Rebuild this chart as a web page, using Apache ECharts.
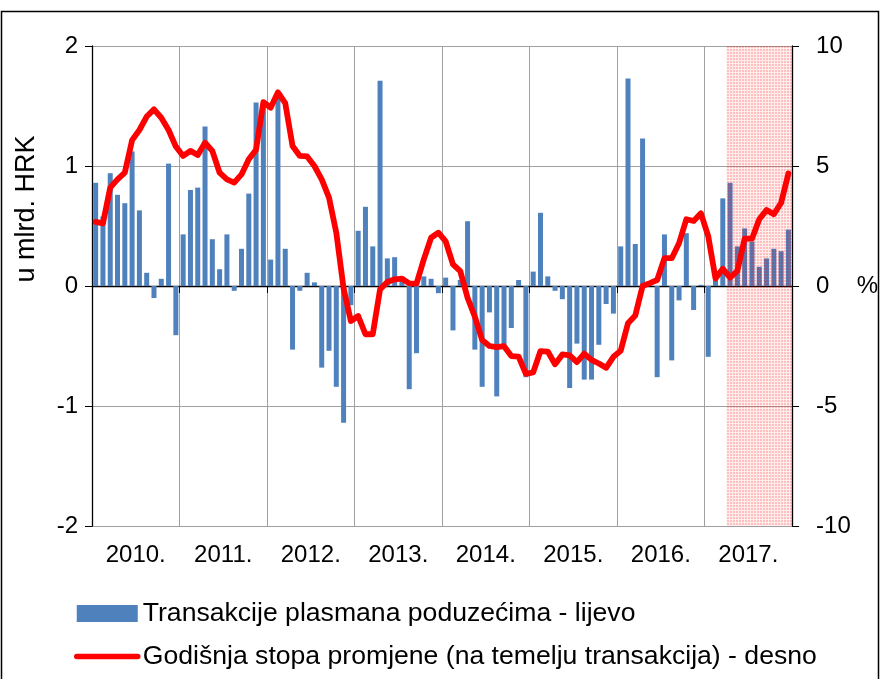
<!DOCTYPE html>
<html><head><meta charset="utf-8">
<script src="https://cdn.jsdelivr.net/npm/echarts@6/dist/echarts.min.js"></script>
<style>html,body{margin:0;padding:0;background:#fff}#c{width:881px;height:679px}</style>
</head><body><div id="c"></div>
<script>
const years = ['2010','2011','2012','2013','2014','2015','2016','2017'];
const yearLabels = ['2010.','2011.','2012.','2013.','2014.','2015.','2016.','2017.'];
const months = [];
years.forEach(y => { for (let m = 1; m <= 12; m++) months.push(y + '-' + String(m).padStart(2, '0')); });

const barName = 'Transakcije plasmana poduzećima - lijevo';
const lineName = 'Godišnja stopa promjene (na temelju transakcija) - desno';

// u mlrd. HRK (left axis)
const transakcije = [
  0.86, 0.58, 0.94, 0.76, 0.69, 1.12, 0.63, 0.11, -0.10, 0.06, 1.02, -0.41,
  0.43, 0.80, 0.82, 1.33, 0.39, 0.14, 0.43, -0.04, 0.31, 0.77, 1.53, 1.52,
  0.22, 1.56, 0.31, -0.53, -0.04, 0.11, 0.03, -0.68, -0.54, -0.84, -1.14, -0.16,
  0.46, 0.66, 0.33, 1.71, 0.23, 0.24, 0.08, -0.86, -0.56, 0.08, 0.06, -0.06,
  0.07, -0.37, 0.05, 0.54, -0.53, -0.84, -0.22, -0.92, -0.49, -0.35, 0.05, -0.76,
  0.12, 0.61, 0.08, -0.04, -0.11, -0.85, -0.48, -0.78, -0.78, -0.49, -0.15, -0.23,
  0.33, 1.73, 0.35, 1.23, 0.02, -0.76, 0.43, -0.62, -0.12, 0.44, -0.20, 0.01,
  -0.59, 0.05, 0.73, 0.86, 0.33, 0.48, 0.37, 0.16, 0.23, 0.31, 0.29, 0.47
];
// % (right axis)
const stopa = [
  2.67, 2.61, 4.10, 4.44, 4.72, 6.08, 6.50, 7.06, 7.36, 7.01, 6.50, 5.81,
  5.42, 5.63, 5.46, 5.97, 5.63, 4.72, 4.44, 4.31, 4.65, 5.28, 5.68, 7.66,
  7.43, 8.07, 7.62, 5.83, 5.42, 5.40, 5.00, 4.44, 3.68, 2.22, -0.10, -1.46,
  -1.25, -2.01, -2.01, -0.14, 0.17, 0.28, 0.31, 0.11, 0.10, 1.11, 2.01, 2.22,
  1.86, 0.90, 0.62, -0.49, -1.28, -2.25, -2.50, -2.55, -2.51, -2.92, -2.94, -3.66,
  -3.60, -2.71, -2.73, -3.26, -2.85, -2.89, -3.17, -2.82, -3.08, -3.23, -3.41, -2.95,
  -2.70, -1.55, -1.23, 0.00, 0.12, 0.25, 1.16, 1.16, 1.78, 2.78, 2.71, 3.03,
  2.08, 0.31, 0.72, 0.35, 0.63, 1.97, 1.97, 2.78, 3.17, 2.99, 3.47, 4.69
];
const shadeStart = '2017-04';
const shadeEnd = '2017-12';
const leftMin = -2, leftMax = 2, leftStep = 1;
const rightMin = -10, rightMax = 10, rightStep = 5;

const FONT = '"Liberation Sans", Arial, sans-serif';

const pat = document.createElement('canvas');
pat.width = 3; pat.height = 3;
(function () {
  const g = pat.getContext('2d');
  g.fillStyle = 'rgba(255,0,0,0.25)'; g.fillRect(0, 0, 3, 3);
  g.clearRect(0, 0, 3, 1); g.clearRect(0, 0, 1, 3);
  g.fillStyle = 'rgba(255,0,0,0.07)'; g.fillRect(0, 0, 3, 1); g.fillRect(0, 1, 1, 2);
})();

const chart = echarts.init(document.getElementById('c'), null, { renderer: 'canvas' });
chart.setOption({
  animation: false,
  backgroundColor: '#fff',
  textStyle: { fontFamily: FONT },
  grid: { left: 92, right: 85, top: 46, bottom: 153, containLabel: false },
  legend: {
    orient: 'vertical', left: 69, top: 595,
    itemWidth: 61, itemHeight: 17, itemGap: 16,
    textStyle: { fontSize: 26.6, color: '#000', fontFamily: FONT },
    data: [
      { name: barName, icon: 'rect' },
      { name: lineName, itemStyle: { opacity: 0 }, lineStyle: { width: 5.5, color: '#FF0000', cap: 'round' } }
    ]
  },
  xAxis: [
    {
      type: 'category', data: months, boundaryGap: true,
      axisLine: { show: true, onZero: true, onZeroAxisIndex: 0, lineStyle: { color: '#000', width: 1.3 } },
      axisTick: { show: true, inside: false, length: 7, interval: (i) => i % 12 === 0, lineStyle: { color: '#000' } },
      axisLabel: { show: false },
      splitLine: { show: false }
    },
    {
      type: 'category', data: yearLabels, boundaryGap: true, position: 'bottom',
      axisLine: { show: false, onZero: false },
      axisTick: { show: false },
      axisLabel: { show: true, interval: 0, fontSize: 24, color: '#000', margin: 17, fontFamily: FONT },
      splitLine: { show: true, interval: 0, lineStyle: { color: '#A0A0A0', width: 1 } }
    }
  ],
  yAxis: [
    {
      type: 'value', min: leftMin, max: leftMax, interval: leftStep, position: 'left',
      axisLine: { show: true, lineStyle: { color: '#000', width: 1.3 } },
      axisTick: { show: true, inside: false, length: 7, lineStyle: { color: '#000' } },
      axisLabel: { fontSize: 24, color: '#000', margin: 14, fontFamily: FONT },
      splitLine: { show: true, lineStyle: { color: '#A0A0A0', width: 1 } }
    },
    {
      type: 'value', min: rightMin, max: rightMax, interval: rightStep, position: 'right',
      axisLine: { show: true, lineStyle: { color: '#000', width: 1.3 } },
      axisTick: { show: true, inside: false, length: 7, lineStyle: { color: '#000' } },
      axisLabel: { fontSize: 24, color: '#000', margin: 24, fontFamily: FONT },
      splitLine: { show: false },
      name: '%', nameLocation: 'middle', nameRotate: 0, nameGap: 60,
      nameTextStyle: { fontSize: 24, color: '#000', fontFamily: FONT }
    }
  ],
  series: [
    {
      name: barName, type: 'bar', data: transakcije, xAxisIndex: 0, yAxisIndex: 0,
      barWidth: 5, itemStyle: { color: '#4F81BD' }, z: 2
    },
    {
      name: 'shade', type: 'custom', xAxisIndex: 0, yAxisIndex: 0, z: 3, silent: true,
      data: [[months.indexOf(shadeStart), months.indexOf(shadeEnd)]],
      encode: { x: [0, 1] },
      renderItem: function (params, api) {
        const s = api.value(0), e = api.value(1);
        const bw = api.size([1, 0])[0];
        const p0 = api.coord([s, leftMax]);
        const p1 = api.coord([e, leftMin]);
        return {
          type: 'rect',
          shape: { x: p0[0] - bw / 2, y: p0[1], width: p1[0] - p0[0] + bw, height: p1[1] - p0[1] },
          style: { fill: { image: pat, repeat: 'repeat' } }
        };
      }
    },
    {
      name: lineName, type: 'line', data: stopa, xAxisIndex: 0, yAxisIndex: 1,
      symbol: 'none', z: 4,
      lineStyle: { color: '#FF0000', width: 5.8, cap: 'round', join: 'round' },
      itemStyle: { color: '#FF0000' }
    }
  ],
  graphic: [
    {
      type: 'text', x: 27, y: 209, rotation: Math.PI / 2,
      style: { text: 'u mlrd. HRK', fontSize: 27, fontFamily: FONT, fill: '#000', align: 'center', verticalAlign: 'middle' }
    },
    {
      type: 'rect', silent: true,
      shape: { x: 1.5, y: 11.5, width: 877, height: 720 },
      style: { fill: 'none', stroke: '#000', lineWidth: 1.5 }
    }
  ]
});
</script>
</body></html>
